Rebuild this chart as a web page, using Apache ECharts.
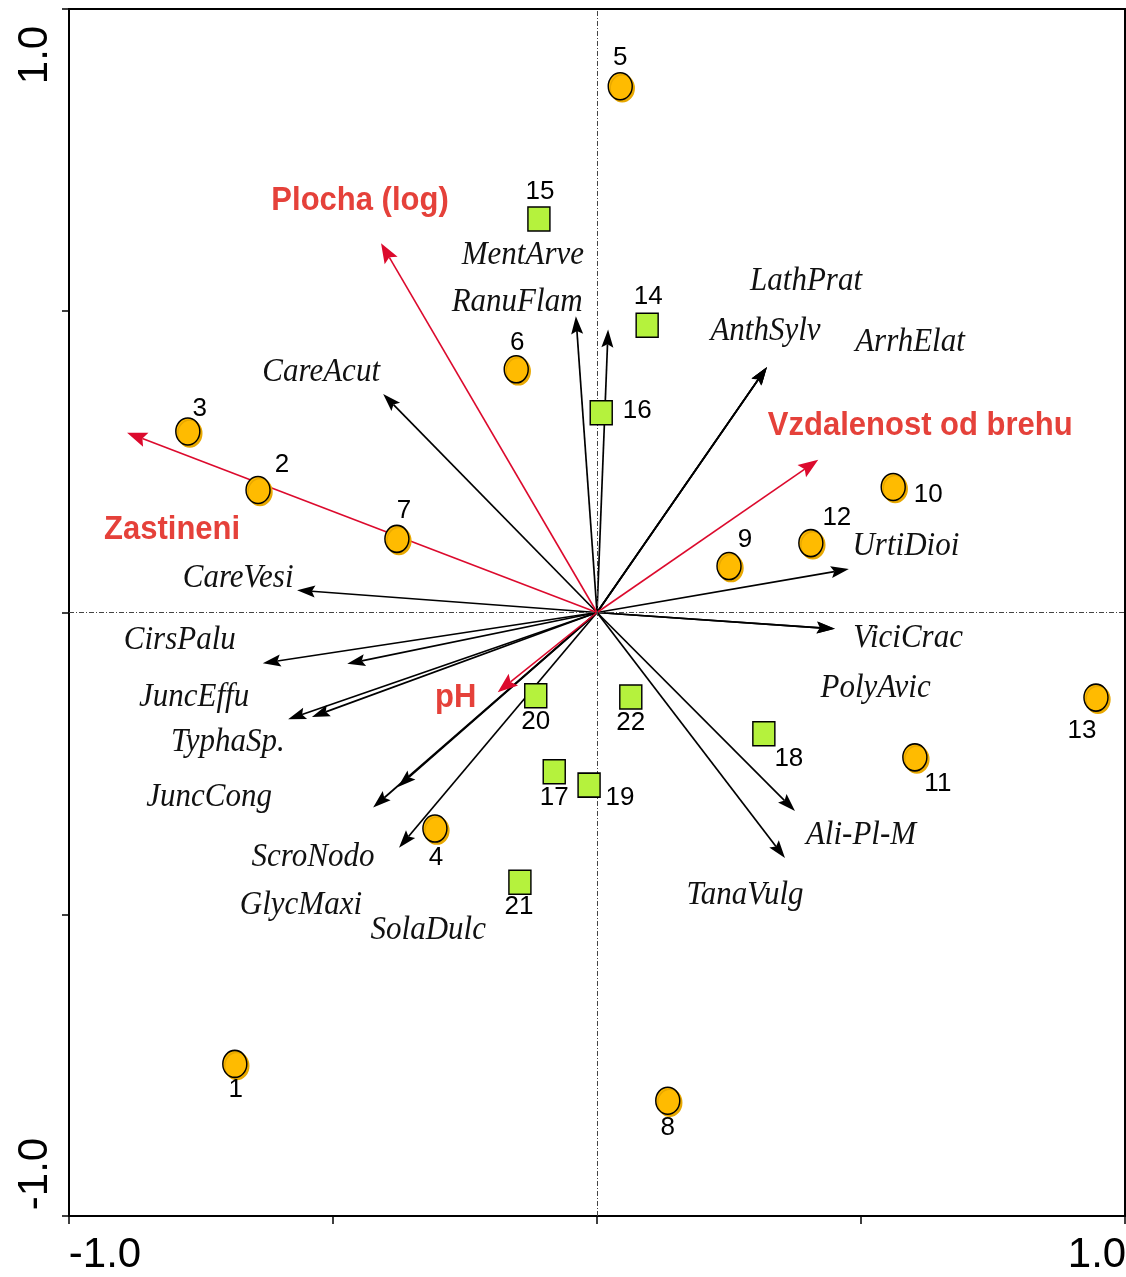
<!DOCTYPE html>
<html>
<head>
<meta charset="utf-8">
<script src="https://cdn.jsdelivr.net/npm/echarts@6/dist/echarts.min.js"></script>
<style>
  html, body { margin: 0; padding: 0; background: #fff; }
  #chart { width: 1126px; height: 1277px; }
</style>
</head>
<body>
<div id="chart"></div>
<script>
// ---- Sample scores (axis 1, axis 2) ----
const circleSites = ['1', '2', '3', '4', '5', '6', '7', '8', '9', '10', '11', '12', '13'];
const circleX = [-0.686, -0.642, -0.775, -0.307, 0.044, -0.153, -0.379, 0.134, 0.250, 0.561, 0.602, 0.405, 0.945];
const circleY = [-0.748, 0.203, 0.300, -0.358, 0.872, 0.403, 0.122, -0.809, 0.077, 0.208, -0.240, 0.115, -0.141];

const squareSites = ['14', '15', '16', '17', '18', '19', '20', '21', '22'];
const squareX = [0.095, -0.110, 0.008, -0.081, 0.316, -0.015, -0.116, -0.146, 0.064];
const squareY = [0.476, 0.652, 0.331, -0.264, -0.201, -0.286, -0.138, -0.447, -0.140];

// ---- Species scores ----
const speciesNames = ['CareAcut', 'MentArve', 'RanuFlam', 'LathPrat', 'AnthSylv', 'ArrhElat', 'UrtiDioi',
  'ViciCrac', 'PolyAvic', 'Ali-Pl-M', 'TanaVulg', 'CareVesi', 'CirsPalu', 'JuncEffu', 'TyphaSp.',
  'SolaDulc', 'GlycMaxi', 'JuncCong', 'ScroNodo'];
const speciesX = [-0.405, -0.040, 0.021, 0.322, 0.321, 0.322, 0.477,
  0.451, 0.450, 0.375, 0.356, -0.568, -0.633, -0.585, -0.540,
  -0.473, -0.377, -0.424, -0.375];
const speciesY = [0.362, 0.491, 0.469, 0.407, 0.406, 0.407, 0.072,
  -0.027, -0.027, -0.329, -0.407, 0.037, -0.084, -0.177, -0.173,
  -0.085, -0.289, -0.323, -0.390];

// ---- Environmental variables ----
const envNames = ['Plocha (log)', 'Zastineni', 'Vzdalenost od brehu', 'pH'];
const envX = [-0.409, -0.890, 0.419, -0.188];
const envY = [0.612, 0.298, 0.253, -0.132];

// ---- Axis tick labels ----
const xTickLabels = { '-1': '-1.0', '1': '1.0' };
const yTickLabels = { '-1': '-1.0', '1': '1.0' };

// ---- Label placement (pixel offsets from the mark) ----
const siteLabelOffset = {
  '1': [1, 26], '2': [24, -25], '3': [12, -23], '4': [1, 29], '5': [0, -28], '6': [1, -26],
  '7': [7, -28], '8': [0, 27], '9': [16, -26], '10': [35, 8], '11': [23, 26], '12': [26, -25],
  '13': [-14, 33], '14': [1, -28], '15': [1, -27], '16': [36, -2], '17': [0, 26], '18': [25, 25],
  '19': [31, 13], '20': [0, 26], '21': [-1, 25], '22': [0, 26]
};
const speciesLabelOffset = {
  'CareAcut': [-62, -22], 'MentArve': [-53, -61], 'RanuFlam': [-91, -27], 'LathPrat': [39, -86],
  'AnthSylv': [-1, -36], 'ArrhElat': [143, -25], 'UrtiDioi': [57, -23], 'ViciCrac': [73, 9],
  'PolyAvic': [41, 59], 'Ali-Pl-M': [66, 24], 'TanaVulg': [-40, 37], 'CareVesi': [-59, -12],
  'CirsPalu': [-83, -23], 'JuncEffu': [-94, -22], 'TyphaSp.': [-84, 25], 'SolaDulc': [81, 266],
  'GlycMaxi': [-97, 118], 'JuncCong': [-164, -10], 'ScroNodo': [-86, 9]
};
const envLabelOffset = {
  'Plocha (log)': [-21, -43], 'Zastineni': [45, 97], 'Vzdalenost od brehu': [102, -34], 'pH': [-42, 5]
};

const SANS = "'Liberation Sans', Arial, sans-serif";
const SERIF = "'Liberation Serif', 'Times New Roman', serif";

// Biplot arrow from the origin to (x, y), with a notched head and a text label
function arrowRenderer(names, offsets, opts) {
  return function (params, api) {
    const o = api.coord([0, 0]);
    const t = api.coord([api.value(0), api.value(1)]);
    const dx = t[0] - o[0], dy = t[1] - o[1];
    const len = Math.hypot(dx, dy) || 1;
    const ux = dx / len, uy = dy / len;
    const px = -uy, py = ux;
    const L = opts.headLen, W = opts.headWidth / 2;
    const bx = t[0] - ux * L, by = t[1] - uy * L;
    const nx = t[0] - ux * L * 0.82, ny = t[1] - uy * L * 0.82;
    const name = names[params.dataIndex];
    const off = offsets[name] || [0, 0];
    return {
      type: 'group',
      children: [
        { type: 'line', shape: { x1: o[0], y1: o[1], x2: nx, y2: ny },
          style: { stroke: opts.color, lineWidth: opts.lineWidth } },
        { type: 'polygon',
          shape: { points: [[t[0], t[1]], [bx + px * W, by + py * W], [nx, ny], [bx - px * W, by - py * W]] },
          style: { fill: opts.color } },
        { type: 'text', x: t[0] + off[0], y: t[1] + off[1], scaleY: opts.textScaleY,
          style: { text: name, font: opts.font, fill: opts.textColor, align: 'center', verticalAlign: 'middle' } }
      ]
    };
  };
}

const chart = echarts.init(document.getElementById('chart'), null, { renderer: 'canvas' });

const labelRich = (size) => ({
  l: { padding: [0, 0, 0, 72], fontSize: size, fontFamily: SANS, color: '#000' },
  r: { padding: [0, 56, 0, 0], fontSize: size, fontFamily: SANS, color: '#000' },
  t: { padding: [0, 92, 0, 0], fontSize: size, fontFamily: SANS, color: '#000' },
  b: { padding: [0, 0, 0, 84], fontSize: size, fontFamily: SANS, color: '#000' }
});

chart.setOption({
  animation: false,
  backgroundColor: '#fff',
  grid: { left: 69, right: 1, top: 9, bottom: 61, show: true, borderColor: '#000', borderWidth: 2,
    outerBoundsMode: 'none', containLabel: false },
  xAxis: {
    type: 'value', min: -1, max: 1, interval: 0.5,
    axisLine: { onZero: false, lineStyle: { color: '#000', width: 2 } },
    axisTick: { show: true, inside: false, length: 8, lineStyle: { color: '#000', width: 1.5 } },
    splitLine: { show: false },
    axisLabel: {
      margin: 18,
      formatter: (v) => v === -1 ? '{l|' + xTickLabels['-1'] + '}' : (v === 1 ? '{r|' + xTickLabels['1'] + '}' : ''),
      rich: labelRich(42)
    }
  },
  yAxis: {
    type: 'value', min: -1, max: 1, interval: 0.5,
    axisLine: { onZero: false, lineStyle: { color: '#000', width: 2 } },
    axisTick: { show: true, inside: false, length: 7, lineStyle: { color: '#000', width: 1.5 } },
    splitLine: { show: false },
    axisLabel: {
      rotate: 90, margin: 13,
      formatter: (v) => v === 1 ? '{t|' + yTickLabels['1'] + '}' : (v === -1 ? '{b|' + yTickLabels['-1'] + '}' : ''),
      rich: labelRich(42)
    }
  },
  series: [
    {
      // zero reference lines
      type: 'line', data: [], silent: true,
      markLine: {
        silent: true, symbol: ['none', 'none'], label: { show: false },
        lineStyle: { color: '#444', width: 1, type: [5, 2, 1, 2] },
        data: [{ xAxis: 0 }, { yAxis: 0 }]
      },
      z: 1
    },
    {
      // species arrows
      type: 'custom', silent: true, clip: false, z: 2,
      renderItem: arrowRenderer(speciesNames, speciesLabelOffset, {
        color: '#000', lineWidth: 1.7, headLen: 18, headWidth: 12,
        font: 'italic 31px ' + SERIF, textColor: '#111', textScaleY: 1.1
      }),
      encode: { x: 0, y: 1 },
      data: speciesX.map((x, i) => [x, speciesY[i]])
    },
    {
      // environmental variable arrows
      type: 'custom', silent: true, clip: false, z: 3,
      renderItem: arrowRenderer(envNames, envLabelOffset, {
        color: '#DC0A2D', lineWidth: 1.6, headLen: 20, headWidth: 15,
        font: 'bold 31px ' + SANS, textColor: '#E5413A', textScaleY: 1.1
      }),
      encode: { x: 0, y: 1 },
      data: envX.map((x, i) => [x, envY[i]])
    },
    {
      type: 'scatter', silent: true, z: 5,
      symbol: 'circle', symbolSize: [24, 27],
      itemStyle: { color: '#FFBB00', borderColor: '#000', borderWidth: 1.5, opacity: 1,
        shadowColor: '#E8A800', shadowOffsetX: 2, shadowOffsetY: 2, shadowBlur: 0 },
      label: { show: true, position: 'inside', color: '#000', fontSize: 26, fontFamily: SANS,
        formatter: (p) => circleSites[p.dataIndex] },
      data: circleX.map((x, i) => ({ value: [x, circleY[i]], label: { offset: siteLabelOffset[circleSites[i]] } }))
    },
    {
      type: 'scatter', silent: true, z: 5,
      symbol: 'rect', symbolSize: [22, 24],
      itemStyle: { color: '#B5F23D', borderColor: '#000', borderWidth: 1.5, opacity: 1 },
      label: { show: true, position: 'inside', color: '#000', fontSize: 26, fontFamily: SANS,
        formatter: (p) => squareSites[p.dataIndex] },
      data: squareX.map((x, i) => ({ value: [x, squareY[i]], label: { offset: siteLabelOffset[squareSites[i]] } }))
    }
  ]
});
</script>
</body>
</html>
